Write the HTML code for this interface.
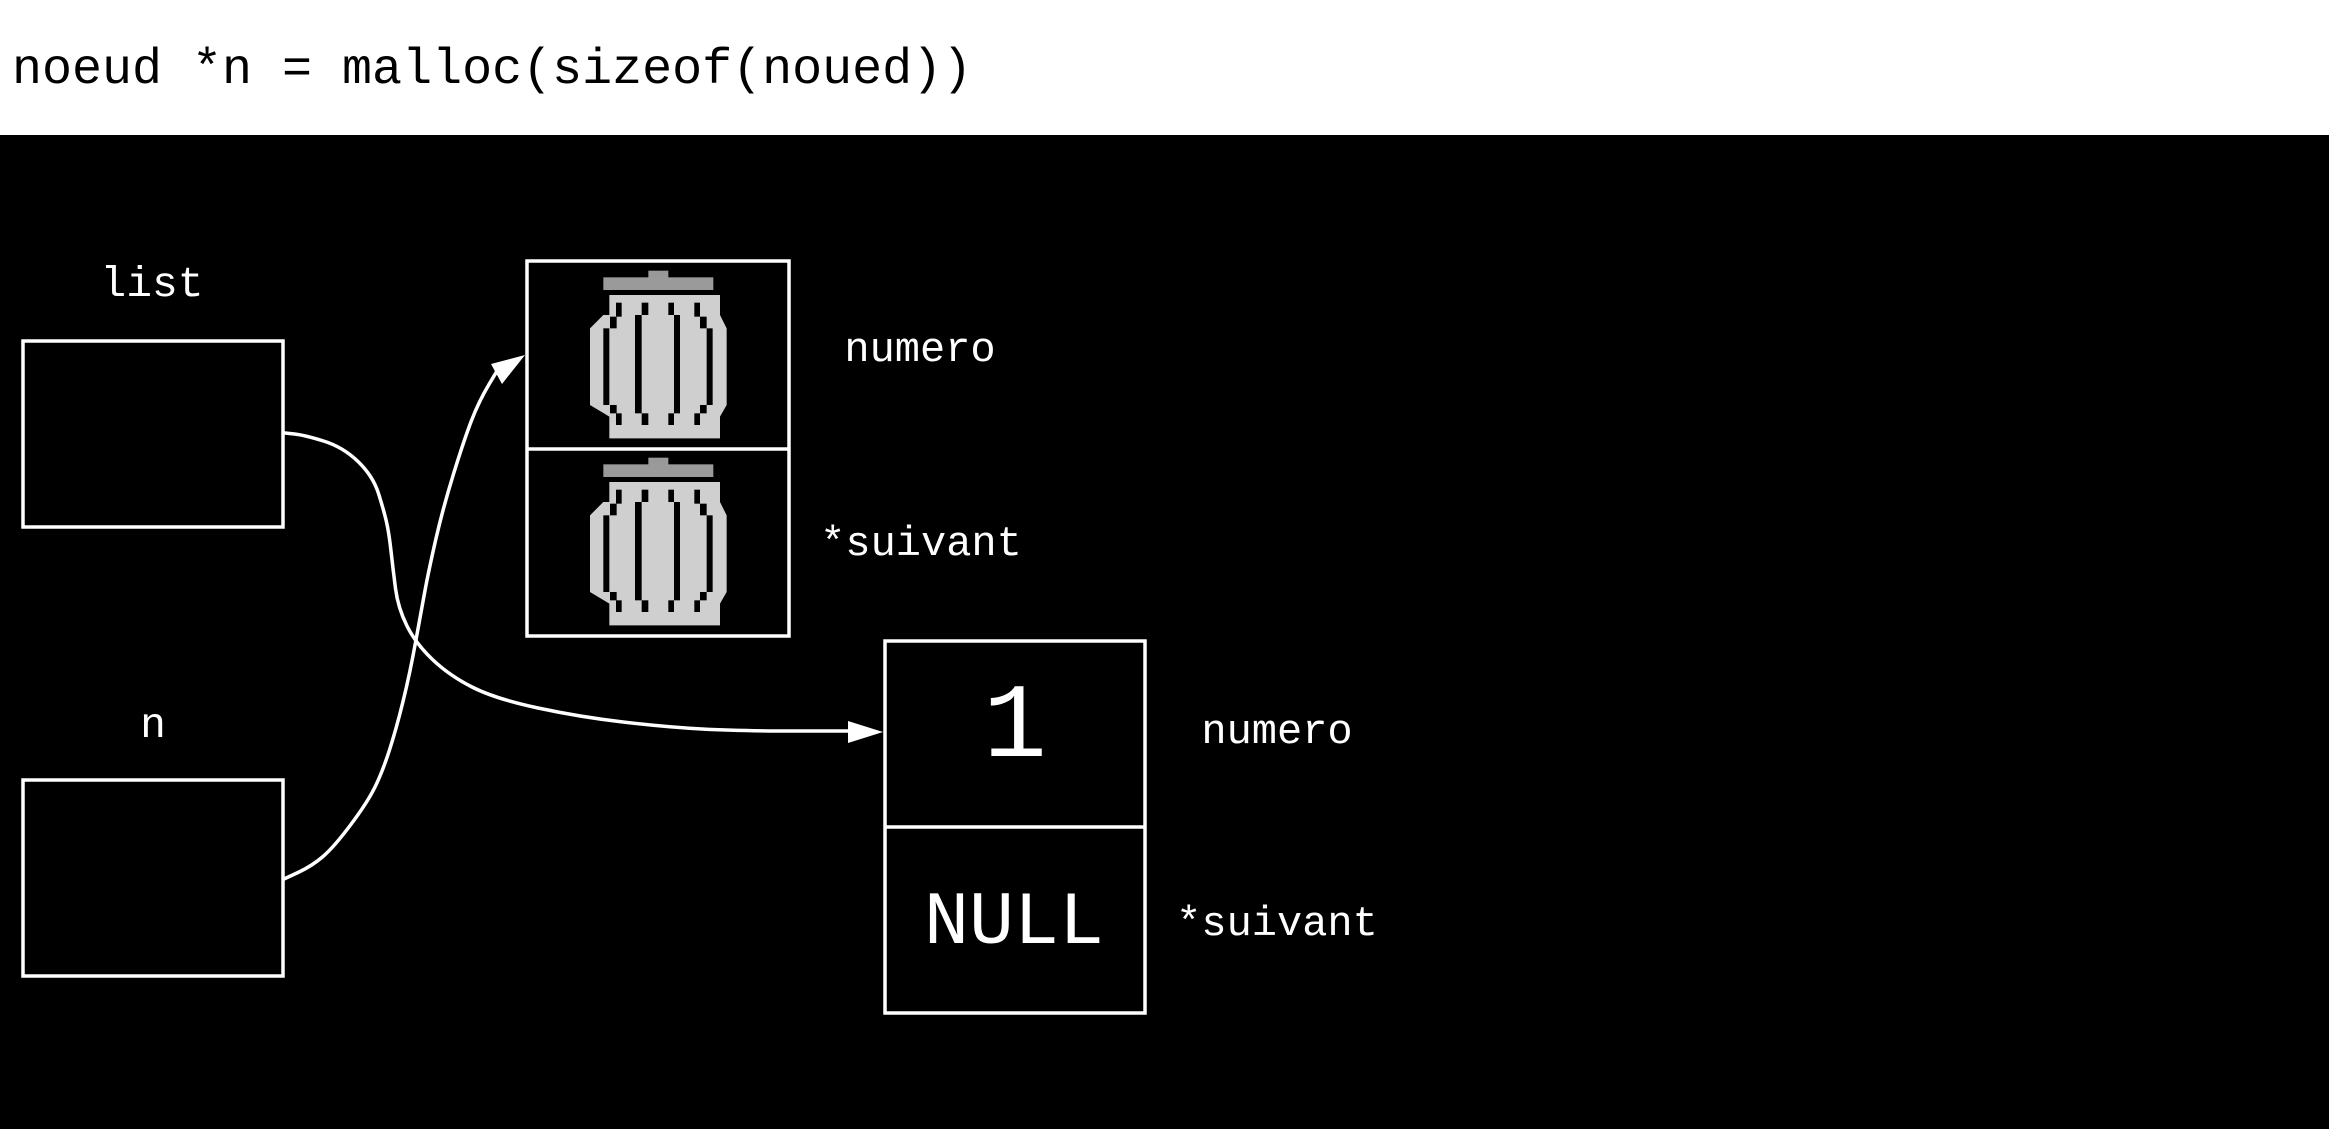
<!DOCTYPE html>
<html>
<head>
<meta charset="utf-8">
<style>
  html, body { margin: 0; padding: 0; background: #000; }
  body { width: 2329px; height: 1129px; overflow: hidden; }
  svg { display: block; }
  text { font-family: "Liberation Mono", "DejaVu Sans Mono", monospace; }
</style>
</head>
<body>
<svg width="2329" height="1129" viewBox="0 0 2329 1129" xmlns="http://www.w3.org/2000/svg">
  <rect x="0" y="0" width="2329" height="1129" fill="#000"/>
  <rect x="0" y="0" width="2329" height="135" fill="#fff"/>
  <text x="12" y="83" font-size="50" fill="#000">noeud *n = malloc(sizeof(noued))</text>

  <!-- list -->
  <text x="152" y="296" font-size="43" fill="#fff" text-anchor="middle">list</text>
  <rect x="23" y="341" width="260" height="186" fill="none" stroke="#fff" stroke-width="3.5"/>

  <!-- n -->
  <text x="153" y="737" font-size="43" fill="#fff" text-anchor="middle">n</text>
  <rect x="23" y="780" width="260" height="196" fill="none" stroke="#fff" stroke-width="3.5"/>

  <!-- trash node -->
  <g>
    <defs>
      <g id="trash">
        <rect x="445" y="92" width="60" height="22" fill="#999"/>
        <rect x="310" y="112" width="330" height="38" fill="#9a9a9a"/>
        <polygon fill="#cfcfcf" points="328,165 660,165 660,225 680,265 680,495 660,530 660,595 328,595 328,530 270,495 270,265 310,225 328,225"/>
        <g fill="#000">
          <rect x="348" y="188" width="17" height="42"/>
          <rect x="330" y="230" width="20" height="35"/>
          <rect x="310" y="265" width="18" height="230"/>
          <rect x="330" y="495" width="20" height="25"/>
          <rect x="348" y="520" width="17" height="35"/>

          <rect x="425" y="188" width="20" height="37"/>
          <rect x="405" y="225" width="20" height="295"/>
          <rect x="425" y="520" width="20" height="35"/>

          <rect x="505" y="188" width="17" height="37"/>
          <rect x="522" y="225" width="18" height="295"/>
          <rect x="505" y="520" width="17" height="35"/>

          <rect x="583" y="188" width="17" height="42"/>
          <rect x="600" y="230" width="20" height="35"/>
          <rect x="620" y="265" width="18" height="230"/>
          <rect x="600" y="495" width="20" height="25"/>
          <rect x="583" y="520" width="17" height="35"/>
        </g>
      </g>
    </defs>
    <g transform="translate(500,240) scale(0.33333)"><use href="#trash"/></g>
    <g transform="translate(500,427) scale(0.33333)"><use href="#trash"/></g>
  </g>
  <rect x="527" y="261" width="262" height="375" fill="none" stroke="#fff" stroke-width="3.5"/>
  <line x1="527" y1="449" x2="789" y2="449" stroke="#fff" stroke-width="3.5"/>
  <text x="920" y="361" font-size="42" fill="#fff" text-anchor="middle">numero</text>
  <text x="921" y="555" font-size="42" fill="#fff" text-anchor="middle">*suivant</text>

  <!-- new node -->
  <rect x="885" y="641" width="260" height="372" fill="none" stroke="#fff" stroke-width="3.5"/>
  <line x1="885" y1="827" x2="1145" y2="827" stroke="#fff" stroke-width="3.5"/>
  <text x="1015" y="756" font-size="106" fill="#fff" text-anchor="middle">1</text>
  <text x="1014" y="943" font-size="75" fill="#fff" text-anchor="middle">NULL</text>
  <text x="1277" y="743" font-size="42" fill="#fff" text-anchor="middle">numero</text>
  <text x="1277" y="935" font-size="42" fill="#fff" text-anchor="middle">*suivant</text>

  <!-- connector list -> new node -->
  <path fill="none" stroke="#fff" stroke-width="3.5" stroke-linejoin="round" stroke-linecap="round"
    d="M285,433 L294.5,434 Q304,435 323.5,441 Q343,447 358,461.5 Q373,476 378.5,493.5 Q384,511 386.5,522 Q389,533 391,551 Q393,569 395.5,588.5 Q398,608 407,626 Q416,644 433,660 Q450,676 473,687.5 Q496,699 538,708 Q580,717 623,722 Q666,727 702,729 Q738,731 794,731 L850,731"/>
  <polygon fill="#fff" points="848,721 883,732 848,743"/>

  <!-- connector n -> trash node -->
  <path fill="none" stroke="#fff" stroke-width="3.5" stroke-linejoin="round" stroke-linecap="round"
    d="M284,879 L298,872.5 Q312,866 323,856.5 Q334,847 350.5,825 Q367,803 374.5,788 Q382,773 389,751.5 Q396,730 403,701.5 Q410,673 415.5,642.5 Q421,612 425,590.5 Q429,569 436,538.5 Q443,508 453.5,474 Q464,440 471.5,420.5 Q479,401 489.5,383.5 L500,366"/>
  <polygon fill="#fff" points="525,355 491,364 502,384"/>
</svg>
</body>
</html>
